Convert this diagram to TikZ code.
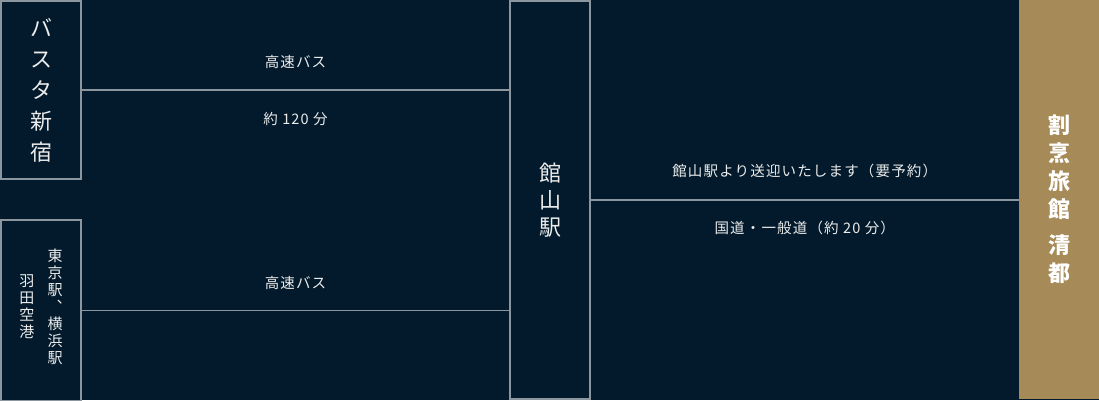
\documentclass[tikz,border=0pt]{standalone}
\usepackage{fontspec}
\newfontfamily\jpfont{Noto Sans CJK JP}
\usetikzlibrary{positioning}

\definecolor{navybg}{RGB}{2,26,43}
\definecolor{framegray}{RGB}{140,150,158}
\definecolor{hotelgold}{RGB}{166,138,88}
\definecolor{textwhite}{RGB}{236,236,236}

\tikzset{
  box/.style={draw=framegray, line width=1.3pt, fill=navybg, inner sep=0pt,
    text=textwhite, align=center},
  bigv/.style={font=\jpfont\fontsize{22}{31}\selectfont},
  smallv/.style={text=textwhite, align=center, inner sep=0pt,
    font=\jpfont\fontsize{15}{17}\selectfont},
  hlabel/.style={text=textwhite, inner sep=0pt,
    font=\jpfont\fontsize{14.5}{16}\selectfont\addfontfeature{LetterSpace=8}},
  route/.style={draw=framegray, line width=1.3pt}
}

\begin{document}
\begin{tikzpicture}[x=1pt,y=1pt,yscale=-1,xscale=1]
\fill[navybg] (0,0) rectangle (1099,400);
\useasboundingbox (0,0) rectangle (1099,400);

% Departure boxes
\node[box, bigv, minimum width=80, minimum height=178] (busta) at (41,90) {バ\\ス\\タ\\新\\宿};
\node[box, minimum width=80, minimum height=181] (tokyo) at (41,310.5) {};
\node[smallv, xshift=14, yshift=4] (tokyotxt) at (tokyo.center) {東\\京\\駅\\︑\\横\\浜\\駅};
\node[smallv, xshift=-14, yshift=4] (hanedatxt) at (tokyo.center) {羽\\田\\空\\港};

% Station box
\node[box, font=\jpfont\fontsize{22}{27}\selectfont, minimum width=80, minimum height=398] (tateyama) at (550,200) {館\\山\\駅};

% Hotel box
\node[fill=hotelgold, inner sep=0pt, text=white, align=center,
  font=\jpfont\bfseries\fontsize{22}{28}\selectfont, minimum width=81, minimum height=399] (hotel) at (1059.5,199.5) {割\\烹\\旅\\館\\[8pt]清\\都};

% Routes
\draw[route] (busta.east) -- (busta.east -| tateyama.west)
  node[midway, hlabel, yshift=28] (bus1) {高速バス}
  node[midway, hlabel, yshift=-29] (time1) {約 120 分};
\draw[route] (tokyo.east) -- (tokyo.east -| tateyama.west)
  node[midway, hlabel, yshift=28] (bus2) {高速バス};
\draw[route] (tateyama.east) -- (tateyama.east -| hotel.west)
  node[midway, hlabel, yshift=29] (pickup) {館山駅より送迎いたします（要予約）}
  node[midway, hlabel, yshift=-28] (road) {国道・一般道（約 20 分）};

\end{tikzpicture}
\end{document}
